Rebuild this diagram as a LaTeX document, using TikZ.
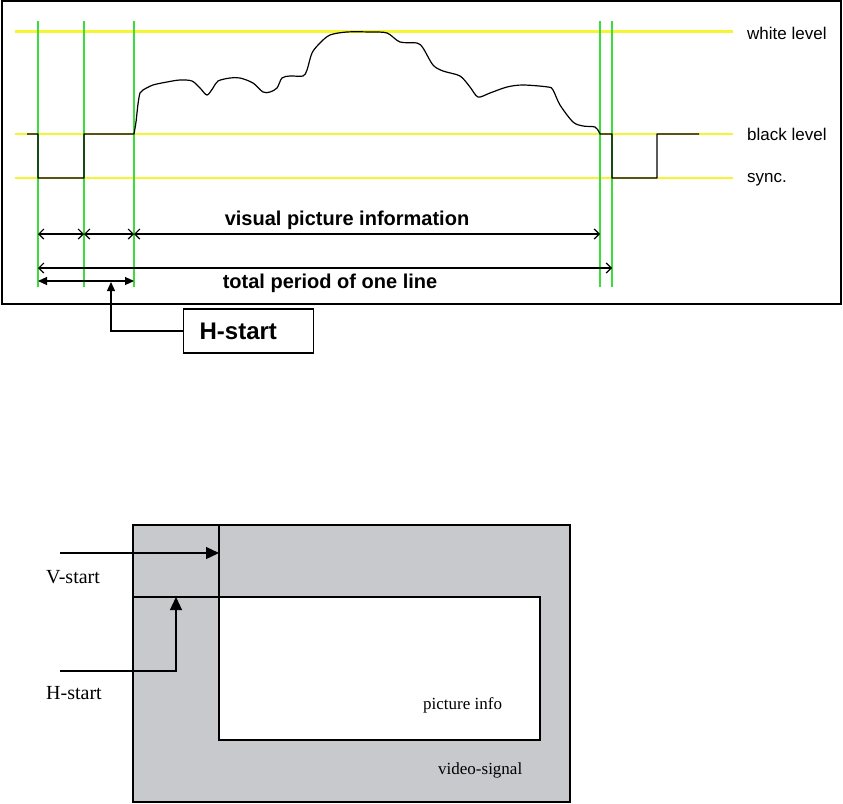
\documentclass[tikz,border=0pt]{standalone}
\usepackage{fontspec}
\setmainfont{Liberation Serif}
\setsansfont{Liberation Sans}
\usetikzlibrary{arrows.meta}
\definecolor{lvlyellow}{RGB}{245,245,50}
\definecolor{mgreen}{RGB}{60,220,60}
\definecolor{vgray}{RGB}{200,201,204}
\begin{document}
\begin{tikzpicture}[x=1pt,y=-1pt,
  level/.style={lvlyellow, line width=2.6pt},
  marker/.style={mgreen, line width=1.8pt},
  sig/.style={black, line width=1.2pt, line join=round},
  dimline/.style={black, line width=1.2pt},
  barbs/.style={dimline, {Straight Barb[length=5pt,width=10pt]}-{Straight Barb[length=5pt,width=10pt]}},
  filled/.style={dimline, {Triangle[length=9pt,width=8pt]}-{Triangle[length=9pt,width=8pt]}},
  uparrow/.style={dimline, -{Triangle[length=9pt,width=8pt]}},
  bigarrow/.style={dimline, -{Triangle[length=13pt,width=12pt]}},
  lbl/.style={font=\sffamily\fontsize{17}{19}\selectfont, anchor=west, inner sep=0pt},
  dimlbl/.style={font=\sffamily\bfseries\fontsize{20}{22}\selectfont, inner sep=0pt},
  serif/.style={font=\rmfamily\fontsize{#1}{#1}\selectfont, inner sep=0pt},
]
\useasboundingbox (0,0) rectangle (843,803);

% ---------- top diagram ----------
\draw[line width=1.5pt] (2,1) rectangle (841,304);

% level lines
\draw[level] (15,31.5) -- (733,31.5);
\draw[level] (15,134) -- (733,134);
\draw[level] (15,178) -- (733,178);

% green markers
\foreach \x/\n in {38/g1,84/g2,134/g3,600/g4,612/g5}{
  \coordinate (\n t) at (\x,21);
  \coordinate (\n b) at (\x,287);
  \draw[marker] (\n t) -- (\n b);
}

% signal
\draw[sig] (27,134) -- (38,134) -- (38,178) -- (84,178) -- (84,134) -- (134,134)
  plot[smooth, tension=0.5] coordinates {
   (134,134) (136,122) (138,104) (140,93) (143,90) (153,85) (167,82) (180,80) (192,81)
   (200,88) (207,95) (213,88) (218,81) (230,78) (240,78) (253,83) (263,92) (270,92)
   (277,88) (282,78) (290,76) (303,76) (307,70) (312,53) (320,43) (330,35) (347,32)
   (370,32) (387,33) (400,42) (417,43) (423,48) (433,65) (443,71) (460,76) (470,87)
   (478,97) (490,93) (507,87) (523,85) (548,87) (553,90) (560,105) (573,122) (583,126)
   (595,127) (599,132) (600,134)}
  -- (612,134) -- (612,178) -- (657,178) -- (657,134) -- (699,134);

% level labels
\node[lbl] (wl) at (747,33) {white level};
\node[lbl] (bl) at (747,134) {black level};
\node[lbl] (sy) at (747,180) {sync.};

% dimension rows
\coordinate (v1) at (38,234);
\coordinate (v2) at (84,234);
\coordinate (v3) at (134,234);
\coordinate (v4) at (600,234);
\draw[barbs] (v1) -- (v2);
\draw[barbs] (v2) -- (v3);
\draw[barbs] (v3) -- (v4);
\node[dimlbl] (vpi) at (347,220) {visual picture information};

\coordinate (t1) at (38,268);
\coordinate (t2) at (612,268);
\draw[barbs] (t1) -- (t2);
\node[dimlbl] (tpl) at (330,283) {total period of one line};

\coordinate (h1) at (38,281);
\coordinate (h2) at (134,281);
\draw[filled] (h1) -- (h2);

\node[draw, line width=1.3pt, anchor=west, minimum height=44pt, text width=98pt,
  inner xsep=16pt, align=left, font=\sffamily\bfseries\fontsize{24}{26}\selectfont]
  (hbox) at (183,331) {H-start};
\coordinate (htip) at (111,282);
\draw[uparrow] (hbox.west) -| (htip);

% ---------- bottom diagram ----------
\draw[fill=vgray, line width=1.2pt] (133,525) rectangle (570,802);
\draw[fill=white, line width=1.2pt] (219,597) rectangle (540,740);
\draw[line width=1.2pt] (219,525) -- (219,597);
\draw[line width=1.2pt] (133,597) -- (219,597);

\coordinate (vs0) at (60,553);
\coordinate (vs1) at (219,553);
\draw[bigarrow] (vs0) -- (vs1);
\coordinate (hs0) at (60,671);
\coordinate (hs1) at (176,597);
\draw[bigarrow] (hs0) -| (hs1);

\node[serif=20, anchor=west] (vst) at (46,577) {V-start};
\node[serif=20, anchor=west] (hst) at (46,693) {H-start};
\node[serif=17, anchor=west] (pi) at (423,705) {picture info};
\node[serif=17, anchor=west] (vsg) at (438,770) {video-signal};
\end{tikzpicture}
\end{document}
